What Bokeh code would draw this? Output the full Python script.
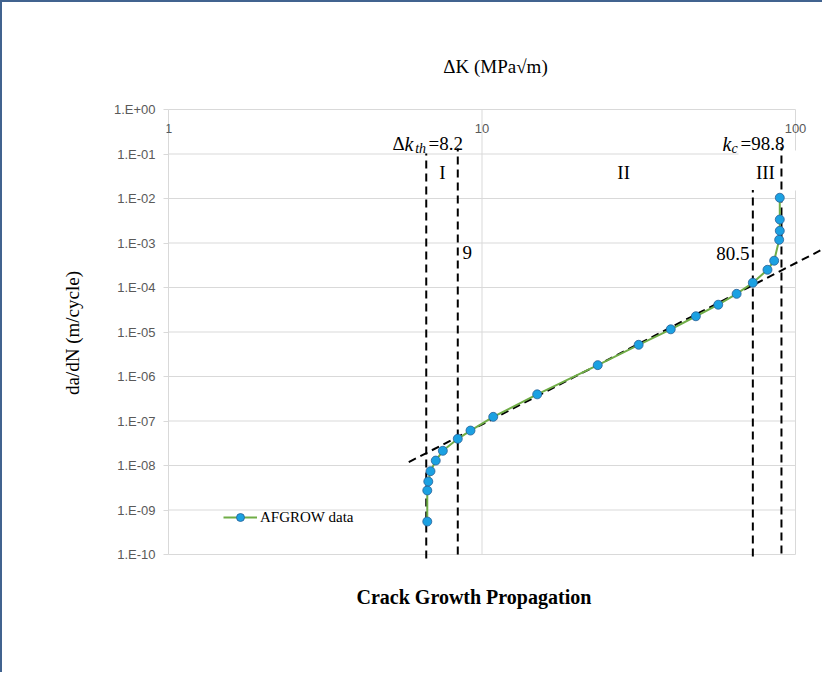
from bokeh.plotting import figure
from bokeh.models import FixedTicker, CustomJSTickFormatter, Title, Legend, LegendItem
from bokeh.core.properties import value
from bokeh.embed import file_html
from bokeh.resources import INLINE

# ---------------- data ----------------
delta_k = [6.69, 6.69, 6.74, 6.85, 7.12, 7.50, 8.37, 9.19, 10.86, 15.0, 23.4,
           31.6, 40.0, 48.1, 56.7, 64.9, 73.1, 81.4, 85.5, 88.7, 89.1, 89.1, 89.1]
dadn = [5.5e-10, 2.75e-9, 4.37e-9, 7.45e-9, 1.29e-8, 2.14e-8, 3.98e-8, 6.1e-8,
        1.24e-7, 3.97e-7, 1.8e-6, 5.16e-6, 1.15e-5, 2.26e-5, 4.1e-5, 7.2e-5,
        1.28e-4, 2.5e-4, 4.0e-4, 1.18e-3, 1.88e-3, 3.37e-3, 1.04e-2]

x_ticks = [1, 10, 100]
x_tick_labels = ["1", "10", "100"]
y_ticks = [1e-10, 1e-9, 1e-8, 1e-7, 1e-6, 1e-5, 1e-4, 1e-3, 1e-2, 1e-1, 1e0]
y_tick_labels = ["1.E-10", "1.E-09", "1.E-08", "1.E-07", "1.E-06", "1.E-05",
                 "1.E-04", "1.E-03", "1.E-02", "1.E-01", "1.E+00"]

# region boundaries (dashed verticals)
boundary_k = [6.64, 8.37, 73.1, 90.2]
boundary_top = [0.102, 0.133, 0.0155, 0.142]
boundary_bottom = [8.1e-11, 1.0e-10, 9.0e-11, 1.05e-10]

# Paris-law fit line (dashed)
fit_k = [5.84, 120.0]
fit_dadn = [1.19e-8, 6.8e-4]

# ---------------- layout ----------------
ORG = 2                                   # canvas origin (after 2px border)
W, H = 822, 672
FL, FT, FB = 166, 100, 565                # frame edges (page px)
FR = ORG + W
X1_PX, PXD_X = 168, 313.5                 # x = 1 at px 168, px per decade
Y0_PX, PXD_Y = 109, 44.5                  # y = 1 at px 109, px per decade
x_start = 10 ** ((FL - X1_PX) / PXD_X)
x_end = 10 ** ((FR - X1_PX) / PXD_X)
y_end = 10 ** ((Y0_PX - FT) / PXD_Y)
y_start = 10 ** (-(FB - Y0_PX) / PXD_Y)

p = figure(width=W, height=H, x_axis_type="log", y_axis_type="log",
           x_range=(x_start, x_end), y_range=(y_start, y_end),
           x_axis_location="above",
           output_backend="svg", toolbar_location=None,
           min_border_left=FL - ORG, min_border_top=FT - ORG,
           min_border_right=0, min_border_bottom=ORG + H - FB,
           background_fill_color="white", border_fill_color="white",
           outline_line_color=None,
           styles={"border-left": "2px solid #41638f",
                   "border-top": "2px solid #41638f"})

p.xgrid.visible = False
p.ygrid.visible = False

GRAY = "#595959"
GRID = "#d9d9d9"

# top axis: only its label
xa = p.xaxis[0]
xa.ticker = FixedTicker(ticks=[])
xa.axis_line_color = None
xa.major_tick_line_color = None
xa.minor_tick_line_color = None
xa.major_tick_out = 0
xa.major_label_standoff = 0
xa.axis_label = "ΔK (MPa√m)"
xa.axis_label_text_font = "Liberation Serif"
xa.axis_label_text_font_size = "19px"
xa.axis_label_text_font_style = "normal"
xa.axis_label_text_color = "black"
xa.axis_label_standoff = 24

ya = p.yaxis[0]
ya.ticker = FixedTicker(ticks=y_ticks)
ya.formatter = CustomJSTickFormatter(
    args=dict(yt=y_ticks, yl=y_tick_labels),
    code="""
    let best = 0, d = Infinity;
    for (let i = 0; i < yt.length; i++) {
        const e = Math.abs(Math.log10(yt[i]) - Math.log10(tick));
        if (e < d) { d = e; best = i; }
    }
    return yl[best];
    """)
ya.axis_line_color = None
ya.major_tick_line_color = GRID
ya.major_tick_out = 3
ya.major_tick_in = 2
ya.minor_tick_line_color = None
ya.major_label_standoff = 8
ya.major_label_text_font = "Liberation Sans"
ya.major_label_text_font_size = "13px"
ya.major_label_text_color = GRAY
ya.axis_label = "da/dN (m/cycle)"
ya.axis_label_text_font = "Liberation Serif"
ya.axis_label_text_font_size = "19px"
ya.axis_label_text_font_style = "normal"
ya.axis_label_text_color = "black"
ya.axis_label_standoff = 28

bottom_title = Title(text="Crack Growth  Propagation", align="left", offset=190,
                     text_font="Liberation Serif", text_font_size="20px",
                     text_font_style="bold", text_color="black", standoff=36)
p.add_layout(bottom_title, "below")

# gridlines (limited to the 1..100 x 1e-10..1 box)
n = len(y_ticks)
p.segment(x0=[x_ticks[0]] * n, x1=[x_ticks[-1]] * n, y0=y_ticks, y1=y_ticks,
          line_color=GRID, line_width=1)
m = len(x_ticks)
p.segment(x0=x_ticks, x1=x_ticks, y0=[y_ticks[0]] * m, y1=[y_ticks[-1]] * m,
          line_color=GRID, line_width=1)

# white text box behind "III"
p.quad(left=[65.8], right=[103], top=[0.12], bottom=[0.0151],
       fill_color="white", line_color=None)

# dashed fit and boundaries
p.line(fit_k, fit_dadn, line_color="black", line_width=2, line_dash="8 5")
p.segment(x0=boundary_k, x1=boundary_k, y0=boundary_bottom, y1=boundary_top,
          line_color="black", line_width=2, line_dash="8 5")

# AFGROW data
r_line = p.line(delta_k, dadn, line_color="#70ad47", line_width=2)
r_pts = p.scatter(delta_k, dadn, size=9, fill_color="#1ba1e2",
                  line_color="#2a5f95", line_width=0.8)

legend = Legend(items=[LegendItem(label="AFGROW data", renderers=[r_line, r_pts])],
                location=(57, 38), glyph_width=34, glyph_height=20,
                label_standoff=3, padding=0, margin=0,
                border_line_color=None, background_fill_alpha=0,
                label_text_font="Liberation Serif", label_text_font_size="15px",
                label_text_color="black")
p.add_layout(legend)

# top tick labels (inside the frame)
p.text(x=x_ticks, y=[0.374] * len(x_ticks), text=x_tick_labels,
       text_font=value("Liberation Sans"), text_font_size="13px",
       text_color=GRAY, text_align="center", text_baseline="middle")

SERIF = value("Liberation Serif")
# region labels
p.text(x=[7.48, 28.3, 80.2], y=[0.0384] * 3, text=["I", "II", "III"],
       text_font=SERIF, text_font_size="19px", text_color="black",
       text_align="center", text_baseline="middle")
p.text(x=[8.67], y=[6.12e-4], text=["9"], text_font=SERIF, text_font_size="19px",
       text_color="black", text_align="left", text_baseline="middle")
p.text(x=[71.3], y=[5.8e-4], text=["80.5"], text_font=SERIF, text_font_size="19px",
       text_color="black", text_align="right", text_baseline="middle")

# Δk_th = 8.2
p.text(x=[5.18], y=[0.172], text=["Δ"], text_font=SERIF, text_font_size="19px",
       text_color="black", text_baseline="alphabetic")
p.text(x=[5.66], y=[0.172], text=["k"], text_font=SERIF, text_font_size="20px",
       text_font_style="italic", text_color="black", text_baseline="alphabetic")
p.text(x=[6.12], y=[0.133], text=["th"], text_font=SERIF, text_font_size="14px",
       text_font_style="italic", text_color="black", text_baseline="alphabetic")
p.text(x=[6.75], y=[0.172], text=["=8.2"], text_font=SERIF, text_font_size="19px",
       text_color="black", text_baseline="alphabetic")

# k_c = 98.8
p.text(x=[58.5], y=[0.172], text=["k"], text_font=SERIF, text_font_size="20px",
       text_font_style="italic", text_color="black", text_baseline="alphabetic")
p.text(x=[62.5], y=[0.133], text=["c"], text_font=SERIF, text_font_size="14px",
       text_font_style="italic", text_color="black", text_baseline="alphabetic")
p.text(x=[66.8], y=[0.172], text=["=98.8"], text_font=SERIF, text_font_size="19px",
       text_color="black", text_baseline="alphabetic")

open("out.html", "w").write(file_html(p, INLINE))
